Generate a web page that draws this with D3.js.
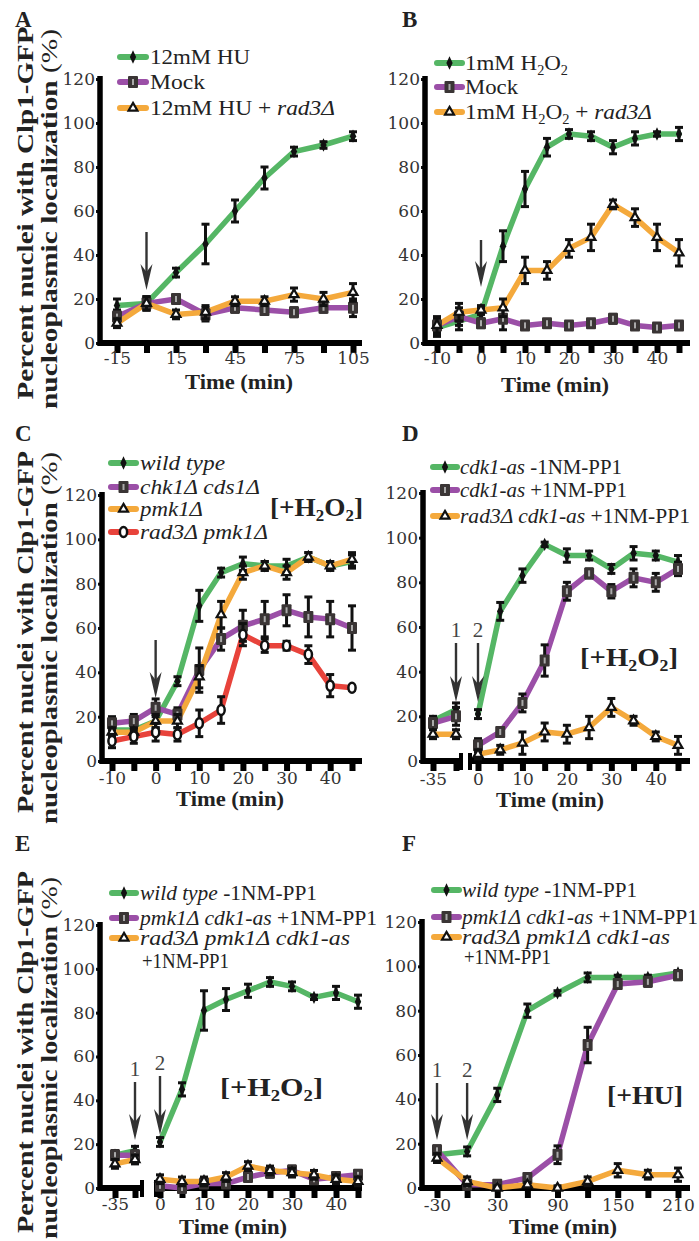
<!DOCTYPE html>
<html><head><meta charset="utf-8">
<script src="https://cdn.jsdelivr.net/npm/d3@7"></script>
<style>body{margin:0;background:#fff}</style>
</head><body><svg width="699" height="1241"></svg>
<script>
// ---------- data ----------
// A: 12mM HU
const aTime = [-15, 0, 15, 30, 45, 60, 75, 90, 105];
const aHU = [17, 18, 32, 45, 60, 75, 87, 90, 94];
const aHUErr = [3, 3, 2, 9, 5, 5, 2, 1.5, 2];
const aMock = [12, 18, 20, 13, 16, 15, 14, 16, 16];
const aMockErr = [3, 3, 2, 3, 2, 2, 2, 2, 4];
const aRad3 = [9, 18, 13, 14, 19, 19, 22, 20, 23];
const aRad3Err = [2, 3, 2, 3, 2, 2, 3, 3, 4];

// B: 1mM H2O2
const bTime = [-10, -5, 0, 5, 10, 15, 20, 25, 30, 35, 40, 45];
const bH2O2 = [7, 10, 13, 44, 70, 89, 95, 94, 89, 93, 95, 95];
const bH2O2Err = [4, 4, 3, 7, 8, 4, 2, 2, 3, 3, 1, 3];
const bMock = [8, 12, 9, 11, 8, 9, 8, 9, 11, 8, 7, 8];
const bMockErr = [3, 4, 2, 5, 1, 1, 1, 1, 2, 1, 1, 1];
const bRad3 = [8, 14, 15, 16, 33, 33, 43, 48, 63, 57, 48, 41];
const bRad3Err = [4, 4, 2, 4, 6, 4, 4, 6, 2, 4, 6, 6];

// C: checkpoint mutants, H2O2
const cTime = [-10, -5, 0, 5, 10, 15, 20, 25, 30, 35, 40, 45];
const cWT = [14, 14, 18, 36, 70, 85, 89, 88, 88, 92, 88, 90];
const cWTErr = [2, 2, 3, 2, 7, 2, 3, 2, 3, 2, 2, 3];
const cChk = [17, 18, 24, 21, 41, 55, 61, 64, 68, 65, 64, 60];
const cChkErr = [3, 3, 4, 3, 10, 5, 7, 8, 7, 9, 8, 10];
const cPmk = [13, 13, 18, 18, 38, 66, 85, 88, 85, 92, 88, 91];
const cPmkErr = [2, 2, 3, 3, 5, 6, 3, 2, 3, 2, 2, 3];
const cRad3Pmk = [9, 11, 13, 12, 17, 23, 57, 52, 52, 48, 34, 33];
const cRad3PmkErr = [3, 3, 4, 3, 6, 6, 5, 3, 2, 4, 5, 1];

// D: cdk1-as, H2O2 (broken axis after -30)
const dTime = [-35, -30, 0, 5, 10, 15, 20, 25, 30, 35, 40, 45];
const dMinus = [18, 23, 21, 67, 83, 97, 92, 92, 86, 93, 92, 89];
const dMinusErr = [2, 3, 2, 4, 3, 1, 3, 2, 2, 3, 2, 3];
const dPlus = [17, 20, 7, 13, 26, 45, 76, 84, 76, 82, 80, 86];
const dPlusErr = [2, 4, 3, 2, 4, 7, 4, 2, 3, 4, 4, 3];
const dRad3 = [12, 12, 3, 5, 8, 13, 12, 15, 24, 18, 11, 7];
const dRad3Err = [2, 2, 2, 2, 5, 4, 4, 5, 4, 2, 2, 4];

// E: pmk1 cdk1-as, H2O2 (broken axis after -30)
const eTime = [-35, -30, 0, 5, 10, 15, 20, 25, 30, 35, 40, 45];
const eWT = [15, 17, 21, 45, 81, 86, 90, 94, 92, 87, 89, 85];
const eWTErr = [2, 2, 2, 3, 9, 5, 3, 2, 2, 1, 3, 3];
const ePmk = [15, 15, 1, 0, 2, 2, 5, 7, 8, 4, 5, 6];
const ePmkErr = [2, 2, 1.5, 1.5, 1.5, 1.5, 2, 2, 2, 1.5, 1.5, 2];
const eRad3 = [11, 13, 4, 3, 3, 5, 10, 8, 7, 6, 4, 3];
const eRad3Err = [2, 2, 2, 2, 2, 2, 2, 2, 2, 2, 2, 2];

// F: pmk1 cdk1-as, HU
const fTime = [-30, 0, 30, 60, 90, 120, 150, 180, 210];
const fWT = [15, 16.5, 42, 80, 88, 95, 95, 95, 97];
const fWTErr = [2, 2, 3, 3, 1, 2, 1, 1, 1];
const fPmk = [17, 1.5, 1.5, 4.5, 15, 64.5, 92, 93, 96];
const fPmkErr = [2, 1, 1, 1, 4, 8, 2, 2, 2];
const fRad3 = [13.5, 3, 0, 1.5, 0, 3, 8, 6, 6];
const fRad3Err = [2, 2, 1, 1, 1, 2, 3, 2, 3];

const yTicks = [0, 20, 40, 60, 80, 100, 120];

// ---------- drawing ----------
const svg = d3.select("svg");
const GREEN = "#55b665", PURPLE = "#9b4fa7", ORANGE = "#f4a93c", RED = "#e8433b";
const SERIF = "'Liberation Serif', 'Times New Roman', serif";
const TICKFONT = "'DejaVu Serif', serif";

function addParts(text, parts) {
  let shift = 0;
  parts.forEach(p => {
    const t = text.append("tspan").text(p.t);
    if (p.i) t.attr("font-style", "italic");
    if (p.n) t.attr("font-weight", "normal");
    if (p.sub) {
      t.attr("dy", 5 - shift).attr("font-size", "0.62em");
      shift = 5;
    } else if (shift) {
      t.attr("dy", -shift);
      shift = 0;
    }
  });
  return text;
}

function marker(g, kind, cx, cy) {
  if (kind === "diamond") {
    g.append("path").attr("d", d3.symbol(d3.symbolDiamond, 42)())
      .attr("transform", `translate(${cx},${cy}) scale(0.9,1.1)`).attr("fill", "#111");
  } else if (kind === "square") {
    g.append("rect").attr("x", cx - 5).attr("y", cy - 6).attr("width", 10).attr("height", 12)
      .attr("rx", 1).attr("fill", "#3a3535");
    g.append("rect").attr("x", cx - 1).attr("y", cy - 3).attr("width", 2).attr("height", 6).attr("fill", "#aaa");
  } else if (kind === "triangle") {
    g.append("path").attr("d", d3.symbol(d3.symbolTriangle, 34)())
      .attr("transform", `translate(${cx},${cy})`)
      .attr("fill", "#fff").attr("stroke", "#111").attr("stroke-width", 2.2);
  } else if (kind === "circle") {
    g.append("ellipse").attr("cx", cx).attr("cy", cy).attr("rx", 3.6).attr("ry", 5)
      .attr("fill", "#fff").attr("stroke", "#111").attr("stroke-width", 2.5);
  }
}

function arrow(g, x, y1, y2, label) {
  g.append("line").attr("x1", x).attr("x2", x).attr("y1", y1).attr("y2", y2 - 14)
    .attr("stroke", "#333").attr("stroke-width", 2.4);
  g.append("path")
    .attr("d", `M${x - 6},${y2 - 26} L${x},${y2} L${x + 6},${y2 - 26} L${x},${y2 - 18} Z`)
    .attr("fill", "#333");
  if (label) {
    g.append("text").attr("x", x).attr("y", y1 - 6).attr("text-anchor", "middle")
      .attr("font-family", SERIF).attr("font-size", 21).attr("fill", "#444").text(label);
  }
}

function panel(p) {
  const g = svg.append("g");
  const x = d3.scaleLinear().domain(p.xDomain).range(p.xRange);
  const y = d3.scaleLinear().domain([0, 120]).range([p.y0, p.y120]);

  // panel letter
  g.append("text").attr("x", p.letter[1]).attr("y", p.letter[2])
    .attr("font-family", SERIF).attr("font-weight", "bold").attr("font-size", 23)
    .attr("fill", "#222").text(p.letter[0]);

  // y axis
  const ya = g.append("g").attr("transform", `translate(${p.yAxisX},0)`)
    .call(d3.axisLeft(y).tickValues(yTicks).tickSize(4).tickSizeOuter(0).tickPadding(1));
  ya.select(".domain").remove();
  ya.selectAll(".tick line").attr("stroke", "#111").attr("stroke-width", 3);
  ya.selectAll("text").attr("font-family", TICKFONT).attr("font-size", 17).attr("fill", "#333");
  g.append("line").attr("x1", p.yAxisX).attr("x2", p.yAxisX)
    .attr("y1", p.y120 - 3).attr("y2", p.y0 + 3).attr("stroke", "#000").attr("stroke-width", 5.5);

  // x axis
  const xa = g.append("g").attr("transform", `translate(0,${p.y0})`)
    .call(d3.axisBottom(x).tickValues(p.xTicks).tickSize(10).tickSizeOuter(0)
      .tickFormat(d => p.xLabels.includes(d) ? d : ""));
  xa.select(".domain").remove();
  xa.selectAll(".tick line").attr("stroke", "#000").attr("stroke-width", 6);
  xa.selectAll("text").attr("y", p.labelOff).attr("font-family", TICKFONT)
    .attr("font-size", 17).attr("fill", "#333");
  if (p.brk) {
    g.append("line").attr("x1", p.yAxisX - 2).attr("x2", p.brk[0])
      .attr("y1", p.y0).attr("y2", p.y0).attr("stroke", "#000").attr("stroke-width", 6);
    g.append("line").attr("x1", p.brk[1]).attr("x2", p.xEnd)
      .attr("y1", p.y0).attr("y2", p.y0).attr("stroke", "#000").attr("stroke-width", 6);
    p.brk.forEach(bx => g.append("line").attr("x1", bx).attr("x2", bx)
      .attr("y1", p.y0 - 8).attr("y2", p.y0 + 9).attr("stroke", "#000").attr("stroke-width", 4));
  } else {
    g.append("line").attr("x1", p.yAxisX - 2).attr("x2", p.xEnd)
      .attr("y1", p.y0).attr("y2", p.y0).attr("stroke", "#000").attr("stroke-width", 6);
  }

  // axis title
  g.append("text").attr("x", p.timeXY[0]).attr("y", p.timeXY[1] + 2).attr("text-anchor", "middle")
    .attr("font-family", SERIF).attr("font-weight", "bold").attr("font-size", 20)
    .attr("fill", "#222").attr("textLength", 108).attr("lengthAdjust", "spacingAndGlyphs")
    .text("Time (min)");

  // lines
  const line = d3.line().x(d => x(d.t)).y(d => y(d.v));
  const series = p.series.map(s => s.values.map((v, i) => ({ t: p.time[i], v, e: s.err[i] })));
  p.series.forEach((s, k) => {
    const pts = series[k];
    const segs = p.split == null ? [pts]
      : [pts.filter(d => d.t <= p.split), pts.filter(d => d.t > p.split)];
    segs.forEach(seg => g.append("path").attr("d", line(seg)).attr("fill", "none")
      .attr("stroke", s.color).attr("stroke-width", 5.5)
      .attr("stroke-linejoin", "round").attr("stroke-linecap", "round"));
  });
  // error bars + markers
  p.series.forEach((s, k) => {
    series[k].forEach(d => {
      const cx = x(d.t), lo = y(Math.max(d.v - d.e, 0)), hi = y(d.v + d.e);
      g.append("line").attr("x1", cx).attr("x2", cx).attr("y1", lo).attr("y2", hi)
        .attr("stroke", "#111").attr("stroke-width", 3);
      [lo, hi].forEach(yy => g.append("line").attr("x1", cx - 4).attr("x2", cx + 4)
        .attr("y1", yy).attr("y2", yy).attr("stroke", "#111").attr("stroke-width", 3));
      marker(g, s.marker, cx, y(d.v));
    });
  });

  // arrows
  p.arrows.forEach(a => arrow(g, x(a.t), a.y1, a.y2, a.label));

  // legend
  const L = p.legend;
  p.series.forEach((s, k) => {
    const ly = L.rows[k];
    g.append("line").attr("x1", L.x1).attr("x2", L.x2).attr("y1", ly).attr("y2", ly)
      .attr("stroke", s.color).attr("stroke-width", 6).attr("stroke-linecap", "round");
    marker(g, s.marker, (L.x1 + L.x2) / 2, ly);
    const t = g.append("text").attr("x", L.tx).attr("y", ly + 7)
      .attr("font-family", SERIF).attr("font-size", L.size).attr("fill", "#222")
      .attr("textLength", s.width).attr("lengthAdjust", "spacingAndGlyphs");
    addParts(t, s.label);
  });
  if (L.extra) {
    g.append("text").attr("x", L.tx + 2).attr("y", L.extra[1] + 7)
      .attr("font-family", SERIF).attr("font-size", L.size).attr("fill", "#222")
      .attr("textLength", 87).attr("lengthAdjust", "spacingAndGlyphs").text(L.extra[0]);
  }

  // condition tag
  if (p.tag) {
    const t = g.append("text").attr("x", p.tag.x).attr("y", p.tag.y)
      .attr("font-family", SERIF).attr("font-weight", "bold").attr("font-size", 26)
      .attr("fill", "#222").attr("textLength", p.tag.w).attr("lengthAdjust", "spacingAndGlyphs");
    addParts(t, p.tag.parts);
  }
}

// shared y label
function yLabel(cx, len1, len2) {
  svg.append("text").attr("transform", `translate(33,${cx}) rotate(-90)`)
    .attr("text-anchor", "middle").attr("font-family", SERIF).attr("font-weight", "bold")
    .attr("font-size", 24).attr("fill", "#222")
    .attr("textLength", len1).attr("lengthAdjust", "spacingAndGlyphs")
    .text("Percent nuclei with Clp1-GFP");
  const t = svg.append("text").attr("transform", `translate(57,${cx + 6}) rotate(-90)`)
    .attr("text-anchor", "middle").attr("font-family", SERIF).attr("font-weight", "bold")
    .attr("font-size", 24).attr("fill", "#222")
    .attr("textLength", len2).attr("lengthAdjust", "spacingAndGlyphs");
  addParts(t, [{ t: "nucleoplasmic localization " }, { t: "(%)", n: true }]);
}
yLabel(213, 373, 380);
yLabel(632, 362, 372);
yLabel(1052, 362, 362);

const H2O2 = [{ t: "H" }, { t: "2", sub: true }, { t: "O" }, { t: "2", sub: true }];
const tagH2O2 = [{ t: "[+" }, ...H2O2, { t: "]" }];
const wtPP1 = [{ t: "wild type", i: true }, { t: " -1NM-PP1" }];
const pmkPP1 = [{ t: "pmk1Δ cdk1-as", i: true }, { t: " +1NM-PP1" }];
const radPmk = [{ t: "rad3Δ pmk1Δ cdk1-as", i: true }];

panel({
  letter: ["A", 15, 27], yAxisX: 100, y0: 343, y120: 79, xEnd: 362,
  xDomain: [-15, 105], xRange: [117, 353], xTicks: aTime, xLabels: [-15, 15, 45, 75, 105],
  labelOff: 9, timeXY: [239, 387], time: aTime,
  series: [
    { values: aHU, err: aHUErr, color: GREEN, marker: "diamond", label: [{ t: "12mM HU" }], width: 100 },
    { values: aMock, err: aMockErr, color: PURPLE, marker: "square", label: [{ t: "Mock" }], width: 55 },
    { values: aRad3, err: aRad3Err, color: ORANGE, marker: "triangle",
      label: [{ t: "12mM HU + " }, { t: "rad3Δ", i: true }], width: 185 }
  ],
  arrows: [{ t: 0, y1: 232, y2: 290 }],
  legend: { x1: 120, x2: 146, tx: 150, rows: [57, 82, 108], size: 22 }
});

panel({
  letter: ["B", 402, 27], yAxisX: 425, y0: 343, y120: 79, xEnd: 690,
  xDomain: [-10, 45], xRange: [437, 679], xTicks: bTime, xLabels: [-10, 0, 10, 20, 30, 40],
  labelOff: 9, timeXY: [555, 390], time: bTime,
  series: [
    { values: bH2O2, err: bH2O2Err, color: GREEN, marker: "diamond", label: [{ t: "1mM " }, ...H2O2], width: 103 },
    { values: bMock, err: bMockErr, color: PURPLE, marker: "square", label: [{ t: "Mock" }], width: 53 },
    { values: bRad3, err: bRad3Err, color: ORANGE, marker: "triangle",
      label: [{ t: "1mM " }, ...H2O2, { t: " + " }, { t: "rad3Δ", i: true }], width: 187 }
  ],
  arrows: [{ t: 0, y1: 240, y2: 287 }],
  legend: { x1: 437, x2: 462, tx: 465, rows: [63, 87, 112], size: 22 }
});

panel({
  letter: ["C", 15, 441], yAxisX: 102, y0: 761, y120: 495, xEnd: 362,
  xDomain: [-10, 45], xRange: [112, 352], xTicks: cTime, xLabels: [-10, 0, 10, 20, 30, 40],
  labelOff: 11, timeXY: [230, 804], time: cTime,
  series: [
    { values: cWT, err: cWTErr, color: GREEN, marker: "diamond", label: [{ t: "wild type", i: true }], width: 85 },
    { values: cChk, err: cChkErr, color: PURPLE, marker: "square", label: [{ t: "chk1Δ cds1Δ", i: true }], width: 120 },
    { values: cPmk, err: cPmkErr, color: ORANGE, marker: "triangle", label: [{ t: "pmk1Δ", i: true }], width: 63 },
    { values: cRad3Pmk, err: cRad3PmkErr, color: RED, marker: "circle", label: [{ t: "rad3Δ pmk1Δ", i: true }], width: 128 }
  ],
  arrows: [{ t: 0, y1: 640, y2: 698 }],
  legend: { x1: 111, x2: 136, tx: 140, rows: [463, 487, 509, 532], size: 21 },
  tag: { x: 270, y: 516, w: 93, parts: tagH2O2 }
});

panel({
  letter: ["D", 402, 441], yAxisX: 423, y0: 761, y120: 493, xEnd: 690,
  xDomain: [-35, -30, 0, 45], xRange: [433, 456, 478, 678], xTicks: dTime,
  xLabels: [-35, 0, 10, 20, 30, 40], split: -30, brk: [461, 470],
  labelOff: 12, timeXY: [550, 805], time: dTime,
  series: [
    { values: dMinus, err: dMinusErr, color: GREEN, marker: "diamond",
      label: [{ t: "cdk1-as", i: true }, { t: " -1NM-PP1" }], width: 162 },
    { values: dPlus, err: dPlusErr, color: PURPLE, marker: "square",
      label: [{ t: "cdk1-as", i: true }, { t: " +1NM-PP1" }], width: 167 },
    { values: dRad3, err: dRad3Err, color: ORANGE, marker: "triangle",
      label: [{ t: "rad3Δ cdk1-as", i: true }, { t: " +1NM-PP1" }], width: 230 }
  ],
  arrows: [{ t: -30, y1: 643, y2: 702, label: "1" }, { t: 0, y1: 643, y2: 702, label: "2" }],
  legend: { x1: 433, x2: 457, tx: 460, rows: [467, 490, 516], size: 20 },
  tag: { x: 580, y: 666, w: 98, parts: tagH2O2 }
});

panel({
  letter: ["E", 15, 851], yAxisX: 100, y0: 1188, y120: 925, xEnd: 362,
  xDomain: [-35, -30, 0, 45], xRange: [115, 135, 160, 358], xTicks: eTime,
  xLabels: [-35, 0, 10, 20, 30, 40], split: -30, brk: [142, 156],
  labelOff: 10, timeXY: [233, 1232], time: eTime,
  series: [
    { values: eWT, err: eWTErr, color: GREEN, marker: "diamond", label: wtPP1, width: 177 },
    { values: ePmk, err: ePmkErr, color: PURPLE, marker: "square", label: pmkPP1, width: 237 },
    { values: eRad3, err: eRad3Err, color: ORANGE, marker: "triangle", label: radPmk, width: 210 }
  ],
  arrows: [{ t: -30, y1: 1082, y2: 1140, label: "1" }, { t: 0, y1: 1076, y2: 1135, label: "2" }],
  legend: { x1: 112, x2: 136, tx: 140, rows: [893, 918, 938], size: 20, extra: ["+1NM-PP1", 961] },
  tag: { x: 220, y: 1096, w: 103, parts: tagH2O2 }
});

panel({
  letter: ["F", 402, 851], yAxisX: 422, y0: 1188, y120: 922, xEnd: 690,
  xDomain: [-30, 210], xRange: [437, 678], xTicks: fTime, xLabels: [-30, 30, 90, 150, 210],
  labelOff: 11, timeXY: [563, 1232], time: fTime,
  series: [
    { values: fWT, err: fWTErr, color: GREEN, marker: "diamond", label: wtPP1, width: 175 },
    { values: fPmk, err: fPmkErr, color: PURPLE, marker: "square", label: pmkPP1, width: 236 },
    { values: fRad3, err: fRad3Err, color: ORANGE, marker: "triangle", label: radPmk, width: 208 }
  ],
  arrows: [{ t: -30, y1: 1083, y2: 1140, label: "1" }, { t: 0, y1: 1083, y2: 1140, label: "2" }],
  legend: { x1: 434, x2: 459, tx: 462, rows: [890, 917, 937], size: 20, extra: ["+1NM-PP1", 957] },
  tag: { x: 607, y: 1104, w: 76, parts: [{ t: "[+HU]" }] }
});
</script>
</body></html>
